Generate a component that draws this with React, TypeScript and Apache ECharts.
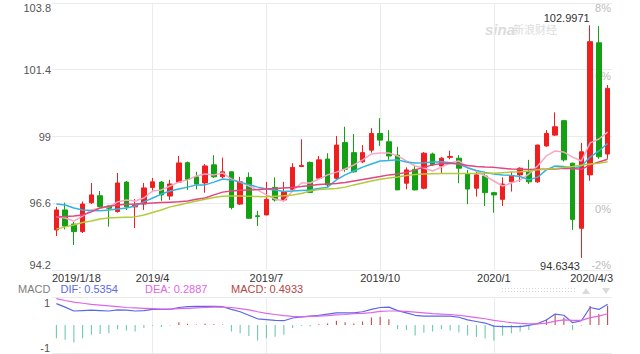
import React, { useEffect, useRef } from 'react';
import * as echarts from 'echarts';

// Weekly categories (Fridays)
const dates = [
  '2019/1/18', '2019/1/25', '2019/2/1', '2019/2/8', '2019/2/15', '2019/2/22', '2019/3/1', '2019/3/8', '2019/3/15', '2019/3/22',
  '2019/3/29', '2019/4/5', '2019/4/12', '2019/4/19', '2019/4/26', '2019/5/3', '2019/5/10', '2019/5/17', '2019/5/24', '2019/5/31',
  '2019/6/7', '2019/6/14', '2019/6/21', '2019/6/28', '2019/7/5', '2019/7/12', '2019/7/19', '2019/7/26', '2019/8/2', '2019/8/9',
  '2019/8/16', '2019/8/23', '2019/8/30', '2019/9/6', '2019/9/13', '2019/9/20', '2019/9/27', '2019/10/4', '2019/10/11', '2019/10/18',
  '2019/10/25', '2019/11/1', '2019/11/8', '2019/11/15', '2019/11/22', '2019/11/29', '2019/12/6', '2019/12/13', '2019/12/20', '2019/12/27',
  '2020/1/3', '2020/1/10', '2020/1/17', '2020/1/24', '2020/1/31', '2020/2/7', '2020/2/14', '2020/2/21', '2020/2/28', '2020/3/6',
  '2020/3/13', '2020/3/20', '2020/3/27', '2020/4/3',
];

// [open, close, low, high]
const ohlc: number[][] = [
  [95.64, 96.36, 95.42, 96.47], [96.36, 95.78, 95.66, 96.62], [95.85, 95.58, 95.10, 95.93], [95.58, 96.57, 95.53, 96.66],
  [96.62, 96.90, 96.57, 97.33], [96.87, 96.48, 96.43, 97.04], [96.50, 96.42, 95.76, 96.52], [96.30, 97.33, 96.26, 97.69],
  [97.36, 96.47, 96.36, 97.40], [96.47, 96.54, 95.71, 96.75], [96.57, 97.15, 96.36, 97.33], [97.17, 97.37, 97.02, 97.51],
  [97.36, 96.90, 96.69, 97.40], [96.86, 97.29, 96.72, 97.44], [97.36, 98.05, 97.33, 98.30], [98.06, 97.46, 97.08, 98.10],
  [97.55, 97.29, 97.10, 97.73], [97.33, 97.94, 96.98, 98.01], [97.98, 97.55, 97.51, 98.33], [97.55, 97.73, 97.50, 98.24],
  [97.73, 96.45, 96.38, 97.75], [96.57, 97.37, 96.54, 97.55], [97.53, 96.06, 96.05, 97.71], [96.15, 96.12, 95.78, 96.33],
  [96.18, 96.74, 96.17, 97.37], [97.17, 96.72, 96.66, 97.53], [96.72, 97.02, 96.66, 97.37], [97.10, 97.89, 97.02, 98.04],
  [97.92, 97.96, 97.90, 98.90], [98.07, 96.99, 96.99, 98.10], [97.50, 98.16, 97.44, 98.30], [98.19, 97.26, 97.17, 98.40],
  [97.50, 98.69, 97.44, 99.02], [98.78, 97.82, 97.73, 99.35], [98.42, 97.73, 97.70, 99.09], [98.09, 98.42, 98.04, 98.69],
  [98.51, 99.11, 98.42, 99.30], [99.11, 98.87, 98.66, 99.66], [98.81, 98.30, 98.16, 99.23], [98.33, 97.08, 97.08, 98.63],
  [97.32, 97.80, 97.10, 97.89], [97.82, 97.08, 97.06, 97.98], [97.14, 98.40, 97.10, 98.44], [98.37, 97.98, 97.94, 98.42],
  [97.94, 98.22, 97.68, 98.27], [98.25, 98.28, 98.18, 98.49], [98.22, 97.86, 97.32, 98.33], [97.65, 97.11, 96.57, 97.80],
  [97.14, 97.62, 96.84, 97.73], [97.58, 96.98, 96.50, 97.73], [96.98, 96.90, 96.26, 97.01], [96.74, 97.29, 96.50, 97.53],
  [97.37, 97.58, 97.02, 97.73], [97.62, 97.86, 97.37, 97.89], [97.73, 97.37, 97.29, 98.16], [97.37, 98.69, 97.33, 98.71],
  [98.66, 99.11, 98.63, 99.23], [99.05, 99.35, 99.02, 99.87], [99.57, 98.16, 98.10, 99.60], [98.04, 96.02, 95.64, 98.06],
  [95.70, 98.45, 94.6343, 98.77], [97.62, 102.41, 97.41, 102.9971], [102.37, 98.27, 98.20, 102.97], [98.37, 100.73, 98.20, 100.85],
];

const ma5 = [
  96.11, 96.07, 95.96, 96.14, 96.36, 96.43, 96.47, 96.65, 96.72, 96.68,
  96.79, 97.04, 97.08, 97.22, 97.36, 97.44, 97.58, 97.65, 97.62, 97.69,
  97.47, 97.36, 97.22, 97.08, 96.90, 96.75, 96.68, 97.04, 97.33, 97.33,
  97.47, 97.62, 97.72, 97.83, 97.98, 98.16, 98.37, 98.41, 98.41, 98.30,
  98.12, 97.94, 97.87, 97.76, 97.90, 98.05, 98.12, 97.90, 97.76, 97.58,
  97.40, 97.22, 97.33, 97.44, 97.65, 97.94, 98.30, 98.48, 98.44, 98.26,
  98.12, 98.77, 98.91, 99.16,
];
const ma10 = [
  96.57, 96.54, 96.43, 96.36, 96.34, 96.33, 96.36, 96.39, 96.43, 96.50,
  96.65, 96.79, 96.93, 97.04, 97.11, 97.18, 97.26, 97.26, 97.36, 97.47,
  97.44, 97.36, 97.27, 97.18, 97.11, 97.08, 97.02, 97.04, 97.06, 97.08,
  97.13, 97.18, 97.44, 97.62, 97.76, 97.90, 98.01, 98.12, 98.14, 98.16,
  98.08, 98.05, 98.06, 98.08, 98.09, 98.06, 98.01, 97.87, 97.78, 97.71,
  97.65, 97.62, 97.60, 97.56, 97.44, 97.54, 97.80, 97.94, 97.92, 97.83,
  97.94, 98.26, 98.48, 98.75,
];
const ma20 = [
  96.11, 96.12, 96.14, 96.18, 96.29, 96.43, 96.49, 96.54, 96.56, 96.57,
  96.59, 96.61, 96.63, 96.64, 96.65, 96.68, 96.74, 96.79, 96.90, 97.00,
  97.04, 97.07, 97.08, 97.09, 97.11, 97.13, 97.15, 97.17, 97.20, 97.24,
  97.27, 97.29, 97.31, 97.35, 97.40, 97.45, 97.51, 97.56, 97.62, 97.65,
  97.71, 97.80, 97.89, 97.98, 98.03, 98.04, 98.01, 97.96, 97.92, 97.90,
  97.89, 97.86, 97.83, 97.82, 97.81, 97.82, 97.82, 97.83, 97.86, 97.85,
  97.82, 97.98, 98.08, 98.18,
];
const ma30 = [
  95.67, 95.75, 95.82, 95.91, 95.96, 96.03, 96.07, 96.09, 96.10, 96.11,
  96.18, 96.27, 96.36, 96.47, 96.54, 96.61, 96.68, 96.74, 96.81, 96.85,
  96.86, 96.86, 96.85, 96.84, 96.83, 96.85, 96.87, 96.90, 96.95, 97.04,
  97.09, 97.11, 97.13, 97.18, 97.26, 97.33, 97.40, 97.46, 97.51, 97.54,
  97.60, 97.63, 97.65, 97.66, 97.67, 97.67, 97.67, 97.67, 97.67, 97.68,
  97.68, 97.70, 97.72, 97.73, 97.76, 97.80, 97.82, 97.85, 97.89, 97.92,
  97.97, 98.01, 98.04, 98.09,
];

const dif = [
  0.55, 0.46, 0.36, 0.37, 0.38, 0.37, 0.36, 0.39, 0.38, 0.36,
  0.37, 0.40, 0.40, 0.40, 0.45, 0.47, 0.48, 0.48, 0.48, 0.47,
  0.40, 0.34, 0.25, 0.16, 0.14, 0.12, 0.11, 0.18, 0.21, 0.23,
  0.25, 0.28, 0.31, 0.31, 0.31, 0.34, 0.40, 0.45, 0.46, 0.37,
  0.31, 0.25, 0.23, 0.23, 0.23, 0.23, 0.20, 0.13, 0.09, 0.05,
  -0.03, -0.04, -0.04, -0.04, -0.01, 0.04, 0.13, 0.28, 0.25, 0.06,
  0.11, 0.45, 0.40, 0.5354,
];
const dea = [
  0.68, 0.63, 0.59, 0.56, 0.53, 0.51, 0.49, 0.47, 0.45, 0.44,
  0.43, 0.42, 0.41, 0.41, 0.42, 0.43, 0.44, 0.45, 0.46, 0.46,
  0.45, 0.42, 0.39, 0.34, 0.30, 0.27, 0.24, 0.22, 0.21, 0.22,
  0.23, 0.24, 0.26, 0.27, 0.29, 0.30, 0.32, 0.35, 0.36, 0.36,
  0.35, 0.33, 0.31, 0.29, 0.28, 0.27, 0.25, 0.22, 0.19, 0.16,
  0.12, 0.09, 0.06, 0.04, 0.03, 0.03, 0.05, 0.10, 0.13, 0.12,
  0.12, 0.19, 0.23, 0.2887,
];
const macdHist = [
  -0.34, -0.38, -0.45, -0.34, -0.25, -0.23, -0.21, -0.11, -0.14, -0.17,
  -0.08, -0.02, -0.05, -0.01, 0.07, 0.03, 0.01, 0.03, 0.02, 0.01,
  -0.17, -0.21, -0.28, -0.40, -0.34, -0.30, -0.25, -0.08, -0.02, -0.03,
  0.02, 0.04, 0.11, 0.07, 0.04, 0.09, 0.19, 0.21, 0.15, -0.10,
  -0.13, -0.27, -0.20, -0.17, -0.11, -0.14, -0.19, -0.27, -0.31, -0.35,
  -0.40, -0.27, -0.21, -0.17, -0.13, 0.01, 0.15, 0.28, 0.19, -0.13,
  -0.02, 0.49, 0.28, 0.4933,
];

// axis settings / tick labels
const priceMin = 94.2;
const priceMax = 103.8;
const priceStep = 2.4;
const pctTickLabels = ['-2%', '0%', '', '6%', '8%'];
const macdMin = -0.72;
const macdMax = 0.72;
const labelIndexes = [0, 11, 24, 37, 50, 63];
const quarterIndexes = [11, 24, 37, 50];

const FONT = 'Arial, "Liberation Sans", Helvetica, sans-serif';
const RED = '#f01e1e';
const GREEN = '#13a013';
const GRID_COLOR = '#ebebeb';

export default function App() {
  const ref = useRef<HTMLDivElement>(null);

  useEffect(() => {
    if (!ref.current) return;
    const chart = echarts.init(ref.current, null, { renderer: 'svg' });
    const last = dates.length - 1;
    const t = (color: string, extra: any = {}) => ({ color, fontSize: 11, fontFamily: FONT, ...extra });

    const xSplit = {
      show: true,
      interval: (i: number) => quarterIndexes.includes(i),
      alignWithLabel: true,
      lineStyle: { color: GRID_COLOR, width: 1 },
    };

    const option: any = {
      animation: false,
      backgroundColor: '#fff',
      grid: [
        { left: 52, right: 28, top: 3, height: 267, outerBoundsMode: 'none' },
        { left: 52, right: 28, top: 297, height: 56, outerBoundsMode: 'none' },
      ],
      xAxis: [
        {
          gridIndex: 0,
          type: 'category',
          data: dates,
          boundaryGap: true,
          axisLine: { show: false },
          axisTick: { show: false },
          axisLabel: {
            interval: (i: number) => labelIndexes.includes(i),
            margin: 2,
            formatter: (v: string, i: number) => {
              if (i === 0) return `{first|${v}}`;
              if (i === last) return `{last|${v}}`;
              return `{mid|${v.split('/').slice(0, 2).join('/')}}`;
            },
            rich: {
              first: t('#333', { padding: [0, 0, 0, 40] }),
              last: t('#333', { padding: [0, 32, 0, 0] }),
              mid: t('#333'),
            },
          },
          splitLine: xSplit,
        },
        {
          gridIndex: 1,
          type: 'category',
          data: dates,
          boundaryGap: true,
          axisLine: { show: false },
          axisTick: { show: false },
          axisLabel: { show: false },
          splitLine: xSplit,
        },
      ],
      yAxis: [
        {
          gridIndex: 0,
          type: 'value',
          min: priceMin,
          max: priceMax,
          interval: priceStep,
          position: 'left',
          axisLine: { show: false },
          axisTick: { show: false },
          splitLine: { show: true, lineStyle: { color: GRID_COLOR, width: 1 } },
          axisLabel: {
            margin: 1,
            formatter: (v: number) => {
              const s = String(Math.round(v * 10) / 10);
              if (Math.abs(v - priceMax) < 1e-6) return `{top|${s}}`;
              if (Math.abs(v - priceMin) < 1e-6) return `{bot|${s}}`;
              return `{mid|${s}}`;
            },
            rich: {
              top: t('#555', { padding: [10, 0, 0, 0] }),
              bot: t('#555', { padding: [0, 0, 10, 0] }),
              mid: t('#555'),
            },
          },
        },
        {
          gridIndex: 0,
          type: 'value',
          min: priceMin,
          max: priceMax,
          interval: priceStep,
          position: 'right',
          axisLine: { show: false },
          axisTick: { show: false },
          splitLine: { show: false },
          axisLabel: {
            inside: true,
            margin: 1,
            formatter: (v: number) => {
              const k = Math.round((v - priceMin) / priceStep);
              const s = pctTickLabels[k] || '';
              if (!s) return '';
              if (k === pctTickLabels.length - 1) return `{top|${s}}`;
              if (k === 0) return `{bot|${s}}`;
              return `{mid|${s}}`;
            },
            rich: {
              top: t('#bbb', { padding: [10, 0, 0, 0] }),
              bot: t('#bbb', { padding: [0, 0, 10, 0] }),
              mid: t('#bbb', { padding: [12, 0, 0, 0] }),
            },
          },
        },
        {
          gridIndex: 1,
          type: 'value',
          min: macdMin,
          max: macdMax,
          interval: macdMax,
          axisLine: { show: false },
          axisTick: { show: false },
          splitLine: { show: true, lineStyle: { color: [GRID_COLOR, 'rgba(0,0,0,0)'], width: 1 } },
          axisLabel: {
            margin: 2,
            formatter: (v: number) => {
              if (Math.abs(v) < 1e-9) return '';
              const s = String(Math.round(v));
              return v > 0 ? `{top|${s}}` : `{bot|${s}}`;
            },
            rich: {
              top: t('#555', { padding: [12, 0, 0, 0] }),
              bot: t('#555', { padding: [0, 0, 10, 0] }),
            },
          },
        },
      ],
      series: [
        {
          name: 'K',
          type: 'candlestick',
          xAxisIndex: 0,
          yAxisIndex: 0,
          data: ohlc,
          barWidth: 5,
          itemStyle: { color: RED, color0: GREEN, borderColor: RED, borderColor0: GREEN, borderWidth: 1 },
          markPoint: {
            symbol: 'circle',
            symbolSize: 1,
            silent: true,
            itemStyle: { color: 'rgba(0,0,0,0)' },
            label: {
              show: true,
              color: '#333',
              fontSize: 11,
              fontFamily: FONT,
              formatter: (p: any) => String(p.value),
            },
            data: [
              { type: 'max', valueDim: 'highest', label: { position: [0, -7], align: 'right', verticalAlign: 'middle' } },
              { type: 'min', valueDim: 'lowest', label: { position: [-1, 9], align: 'right', verticalAlign: 'middle' } },
            ],
          },
        },
        { name: 'MA5', type: 'line', data: ma5, symbol: 'none', lineStyle: { color: '#f7a8c6', width: 1.5 }, itemStyle: { color: '#f7a8c6' } },
        { name: 'MA10', type: 'line', data: ma10, symbol: 'none', lineStyle: { color: '#33b4e0', width: 1.5 }, itemStyle: { color: '#33b4e0' } },
        { name: 'MA20', type: 'line', data: ma20, symbol: 'none', lineStyle: { color: '#e4457e', width: 1.5 }, itemStyle: { color: '#e4457e' } },
        { name: 'MA30', type: 'line', data: ma30, symbol: 'none', lineStyle: { color: '#b2cb3c', width: 1.5 }, itemStyle: { color: '#b2cb3c' } },
        {
          name: 'MACD',
          type: 'bar',
          xAxisIndex: 1,
          yAxisIndex: 2,
          data: macdHist,
          barWidth: 1,
          itemStyle: { color: (p: any) => (p.value >= 0 ? '#b83a3a' : '#5cc6a4') },
        },
        { name: 'DIF', type: 'line', xAxisIndex: 1, yAxisIndex: 2, data: dif, symbol: 'none', lineStyle: { color: '#5b68e8', width: 1.2 }, itemStyle: { color: '#5b68e8' } },
        { name: 'DEA', type: 'line', xAxisIndex: 1, yAxisIndex: 2, data: dea, symbol: 'none', lineStyle: { color: '#e066e6', width: 1.2 }, itemStyle: { color: '#e066e6' } },
      ],
      graphic: [
        { type: 'text', x: 485, y: 29, z: -1, silent: true, style: { text: 'sina', fill: '#dcdcdc', font: `italic bold 15px ${FONT}`, verticalAlign: 'middle' } },
        { type: 'text', x: 513, y: 29, z: -1, silent: true, style: { text: '新浪财经', fill: '#dcdcdc', font: '11px "Noto Sans CJK SC", sans-serif', verticalAlign: 'middle' } },
        { type: 'text', x: 18, y: 289, style: { text: 'MACD', fill: '#808080', font: `11px ${FONT}`, verticalAlign: 'middle' } },
        { type: 'text', x: 60.5, y: 289, style: { text: `DIF: ${dif[last].toFixed(4)}`, fill: '#5b68e8', font: `11px ${FONT}`, verticalAlign: 'middle' } },
        { type: 'text', x: 145, y: 289, style: { text: `DEA: ${dea[last].toFixed(4)}`, fill: '#e066e6', font: `11px ${FONT}`, verticalAlign: 'middle' } },
        { type: 'text', x: 231, y: 289, style: { text: `MACD: ${macdHist[last].toFixed(4)}`, fill: '#b84646', font: `11px ${FONT}`, verticalAlign: 'middle' } },
        { type: 'line', silent: true, shape: { x1: 502, y1: 288.5, x2: 576, y2: 288.5 }, style: { stroke: '#d4d4d4', lineWidth: 1, lineDash: [1, 2] } },
        { type: 'line', silent: true, shape: { x1: 502, y1: 291.5, x2: 576, y2: 291.5 }, style: { stroke: '#d4d4d4', lineWidth: 1, lineDash: [1, 2] } },
        { type: 'polygon', silent: true, shape: { points: [[582, 294], [590, 294], [586, 288]] }, style: { fill: '#dadada' } },
        { type: 'polygon', silent: true, shape: { points: [[602, 288], [610, 288], [606, 294]] }, style: { fill: '#dadada' } },
      ],
    };

    chart.setOption(option);
    return () => chart.dispose();
  }, []);

  return (
    <div
      ref={ref}
      style={{ position: 'fixed', left: 0, top: 0, width: 640, height: 354, background: '#fff' }}
    />
  );
}
